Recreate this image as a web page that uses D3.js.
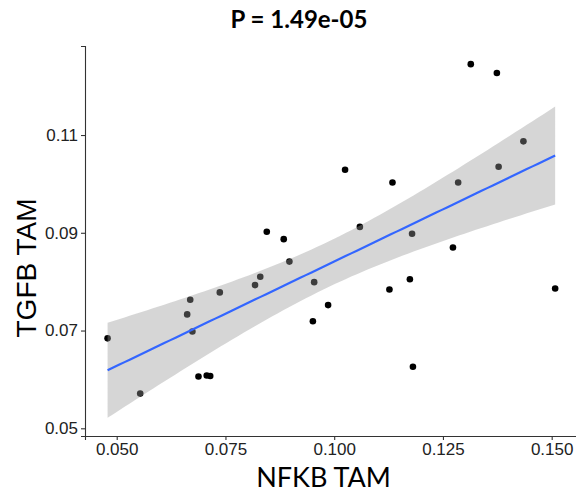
<!DOCTYPE html>
<html>
<head>
<meta charset="utf-8">
<script src="https://cdn.jsdelivr.net/npm/d3@7"></script>
<style>
  html, body { margin: 0; padding: 0; background: #fff; }
  svg { display: block; }
</style>
</head>
<body>
<svg id="chart" width="576" height="493"></svg>
<script>
// ---- data ----
const titleText = "P = 1.49e-05";
const xLabel = "NFKB TAM";
const yLabel = "TGFB TAM";
const xTicks = [0.050, 0.075, 0.100, 0.125, 0.150];
const xTickLabels = ["0.050", "0.075", "0.100", "0.125", "0.150"];
const yTicks = [0.05, 0.07, 0.09, 0.11];
const yTickLabels = ["0.05", "0.07", "0.09", "0.11"];

const nfkb = [0.1314, 0.1374, 0.1435, 0.1378, 0.1285, 0.1025, 0.1134, 0.1059, 0.1179, 0.0845,
              0.0884, 0.0897, 0.0830, 0.0818, 0.0737, 0.0669, 0.0662, 0.0674, 0.0479, 0.0954,
              0.0951, 0.0986, 0.0688, 0.0707, 0.0715, 0.0554, 0.1273, 0.1127, 0.1174, 0.1181,
              0.1508];
const tgfb = [0.1245, 0.1227, 0.1087, 0.1035, 0.1003, 0.1029, 0.1003, 0.0912, 0.0898, 0.0902,
              0.0887, 0.0841, 0.0810, 0.0793, 0.0778, 0.0763, 0.0733, 0.0698, 0.0684, 0.0799,
              0.0719, 0.0752, 0.0606, 0.0608, 0.0607, 0.0571, 0.0870, 0.0784, 0.0805, 0.0626,
              0.0786];

// ---- layout ----
const svg = d3.select("#chart");
const pLeft = 85, pRight = 577, pTop = 46, pBottom = 436;
const x = d3.scaleLinear().domain([0.04271, 0.15582]).range([pLeft, pRight]);
const y = d3.scaleLinear().domain([0.048425, 0.128212]).range([pBottom, pTop]);

// ---- linear fit with 95% CI (as geom_smooth(method = "lm")) ----
const n = nfkb.length;
const mx = d3.mean(nfkb), my = d3.mean(tgfb);
let sxx = 0, sxy = 0;
for (let i = 0; i < n; i++) { sxx += (nfkb[i]-mx)**2; sxy += (nfkb[i]-mx)*(tgfb[i]-my); }
const b1 = sxy / sxx, b0 = my - b1 * mx;
let sse = 0;
for (let i = 0; i < n; i++) { sse += (tgfb[i] - (b0 + b1*nfkb[i]))**2; }
const sres = Math.sqrt(sse / (n - 2));
const tcrit = 2.045;
const [xmin, xmax] = d3.extent(nfkb);
const grid = d3.range(80).map(i => xmin + (xmax - xmin) * i / 79);
const fit = grid.map(g => {
  const yhat = b0 + b1 * g;
  const se = sres * Math.sqrt(1/n + (g - mx)**2 / sxx);
  return {x: g, y: yhat, lo: yhat - tcrit*se, hi: yhat + tcrit*se};
});

// ---- points ----
svg.append("g").selectAll("circle")
  .data(nfkb.map((v, i) => [v, tgfb[i]]))
  .join("circle")
  .attr("cx", d => x(d[0]))
  .attr("cy", d => y(d[1]))
  .attr("r", 3.3)
  .attr("fill", "#000");

// ---- ribbon & line ----
svg.append("path")
  .datum(fit)
  .attr("d", d3.area().x(d => x(d.x)).y0(d => y(d.lo)).y1(d => y(d.hi)))
  .attr("fill", "#999999")
  .attr("fill-opacity", 0.4);
svg.append("path")
  .datum(fit)
  .attr("d", d3.line().x(d => x(d.x)).y(d => y(d.y)))
  .attr("fill", "none")
  .attr("stroke", "#3366FF")
  .attr("stroke-width", 2.2);

// ---- axes ----
const axisColor = "#333333";
const xAxis = svg.append("g")
  .attr("transform", `translate(0,${pBottom})`)
  .call(d3.axisBottom(x).tickValues(xTicks).tickFormat((d, i) => xTickLabels[i]).tickSizeOuter(0).tickSize(4).tickPadding(3));
const yAxis = svg.append("g")
  .attr("transform", `translate(${pLeft},0)`)
  .call(d3.axisLeft(y).tickValues(yTicks).tickFormat((d, i) => yTickLabels[i]).tickSizeOuter(0).tickSize(4).tickPadding(3));
[xAxis, yAxis].forEach(g => {
  g.select(".domain").attr("stroke", axisColor).attr("stroke-width", 1.1);
  g.selectAll(".tick line").attr("stroke", axisColor).attr("stroke-width", 1.1);
  g.selectAll(".tick text")
    .attr("fill", "#222222")
    .attr("font-family", "'Liberation Sans', Arial, sans-serif")
    .attr("font-size", 17);
});

// ---- titles ----
svg.append("text")
  .attr("x", 299).attr("y", 28)
  .attr("text-anchor", "middle")
  .attr("font-family", "Lato, 'Open Sans', sans-serif")
  .attr("font-weight", "bold")
  .attr("font-size", 24)
  .text(titleText);
svg.append("text")
  .attr("x", 323.5).attr("y", 487)
  .attr("text-anchor", "middle")
  .attr("font-family", "Lato, 'Open Sans', sans-serif")
  .attr("font-size", 27)
  .text(xLabel);
svg.append("text")
  .attr("transform", "translate(36,268) rotate(-90)")
  .attr("text-anchor", "middle")
  .attr("font-family", "'Liberation Sans', Arial, sans-serif")
  .attr("font-size", 28)
  .text(yLabel);
</script>
</body>
</html>
